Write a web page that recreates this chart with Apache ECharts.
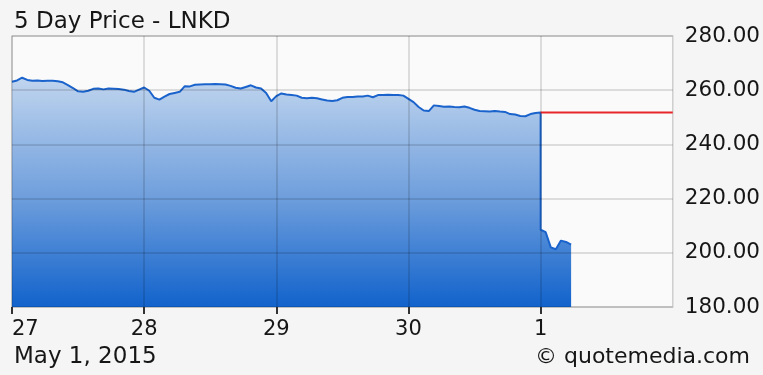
<!DOCTYPE html>
<html>
<head>
<meta charset="utf-8">
<script src="https://cdn.jsdelivr.net/npm/echarts@6/dist/echarts.min.js"></script>
<style>
html,body{margin:0;padding:0;background:#f5f5f5;}
#c{width:763px;height:375px;}
</style>
</head>
<body>
<div id="c"></div>
<script>
// Day labels (x axis ticks)
const dayLabels = ['27', '28', '29', '30', '1'];
// Intraday prices, 26 samples per trading day (~15 min each); Apr 30 also lists its close
const apr27 = [263.1, 263.6, 264.6, 263.8, 263.5, 263.6, 263.4, 263.5, 263.5, 263.3, 262.9, 261.9, 260.8,
               259.6, 259.4, 259.8, 260.5, 260.6, 260.3, 260.6, 260.5, 260.4, 260.2, 259.7, 259.4, 260.2];
const apr28 = [261.0, 259.8, 257.2, 256.5, 257.6, 258.6, 259.0, 259.4, 261.5, 261.4, 262.0, 262.1, 262.2,
               262.2, 262.3, 262.2, 262.1, 261.6, 260.9, 260.6, 261.2, 261.8, 261.0, 260.6, 259.0, 255.9];
const apr29 = [257.8, 258.8, 258.4, 258.2, 258.0, 257.2, 257.0, 257.2, 257.0, 256.6, 256.2, 256.0, 256.3,
               257.2, 257.5, 257.5, 257.7, 257.7, 258.0, 257.4, 258.2, 258.2, 258.3, 258.2, 258.2, 258.0];
const apr30 = [256.8, 255.6, 253.8, 252.5, 252.3, 254.4, 254.2, 253.9, 254.0, 253.8, 253.7, 254.0, 253.5,
               252.8, 252.3, 252.2, 252.1, 252.3, 252.1, 252.0, 251.2, 251.0, 250.5, 250.4, 251.2, 251.6, 251.8];
const may1 = [208.5, 207.6, 202.0, 201.3, 204.5, 204.0, 203.0];
const prevClose = 251.8;
// Y axis ticks
const yMin = 180, yMax = 280, yStep = 20;

const samplesPerDay = 26;
const dayArrays = [apr27, apr28, apr29, apr30, may1];
const priceData = [];
dayArrays.forEach((arr, d) => {
  arr.forEach((p, i) => priceData.push([d + i / samplesPerDay, p]));
});

const FONT = 'DejaVu Sans';
const TXT = '#161616';
const chart = echarts.init(document.getElementById('c'), null, {renderer: 'canvas'});
chart.setOption({
  backgroundColor: '#f5f5f5',
  animation: false,
  title: {
    text: '5 Day Price - LNKD',
    left: 9, top: 6,
    textStyle: {fontFamily: FONT, fontSize: 23, fontWeight: 'normal', color: TXT}
  },
  grid: {
    left: 12, right: 90, top: 36, bottom: 68,
    show: true, backgroundColor: '#fafafa', borderColor: '#cfcfcf', borderWidth: 1.5
  },
  xAxis: {
    type: 'value', min: 0, max: 5, interval: 1, z: 5,
    axisLine: {show: false},
    axisTick: {show: true, customValues: [0, 1, 2, 3, 4], length: 7,
               lineStyle: {color: '#333', width: 2}},
    axisLabel: {
      customValues: [0, 1, 2, 3, 4],
      formatter: v => dayLabels[Math.round(v)] || '',
      fontFamily: FONT, fontSize: 21, color: TXT, margin: 12,
      alignMinLabel: 'left'
    },
    splitLine: {show: true, lineStyle: {color: 'rgba(0,0,0,0.16)', width: 1.5}}
  },
  yAxis: {
    type: 'value', min: yMin, max: yMax, interval: yStep, position: 'right', z: 5,
    axisLine: {show: false},
    axisTick: {show: false},
    axisLabel: {
      formatter: v => v.toFixed(2),
      fontFamily: FONT, fontSize: 21.5, color: TXT, margin: 12
    },
    splitLine: {show: true, lineStyle: {color: 'rgba(0,0,0,0.16)', width: 1.5}}
  },
  series: [
    {
      type: 'line',
      data: priceData,
      showSymbol: false,
      lineStyle: {color: '#1a63cc', width: 2},
      areaStyle: {
        origin: 'start',
        opacity: 1,
        color: new echarts.graphic.LinearGradient(0, 36, 0, 306, [
          {offset: 0, color: '#d3e2f4'},
          {offset: 0.16, color: '#bfd4ee'},
          {offset: 0.6, color: '#6e9edc'},
          {offset: 1, color: '#1263cc'}
        ], true)
      },
      z: 2
    },
    {
      type: 'line',
      data: [[4, prevClose], [5, prevClose]],
      showSymbol: false,
      lineStyle: {color: '#e8262a', width: 2},
      z: 3
    }
  ],
  graphic: [
    {
      type: 'text', left: 14, top: 346,
      style: {text: 'May 1, 2015', fontFamily: FONT, fontSize: 23, fill: TXT}
    },
    {
      type: 'text', right: 13, top: 346,
      style: {
        text: '© quote{m|media}.com',
        fontFamily: FONT, fontSize: 22, fill: TXT,
        rich: {m: {fontFamily: FONT, fontSize: 22, color: '#3f6fc4'}}
      }
    }
  ]
});
</script>
</body>
</html>
